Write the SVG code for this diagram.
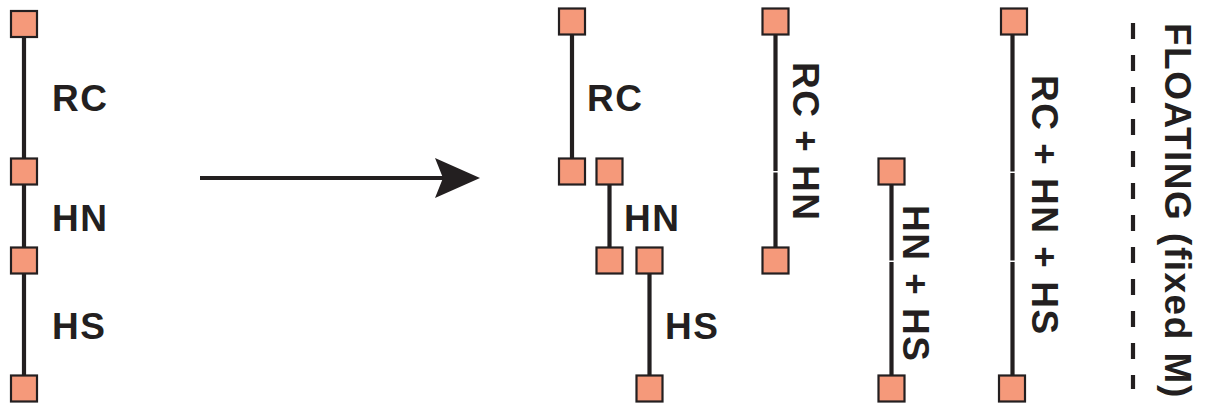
<svg xmlns="http://www.w3.org/2000/svg" width="1209" height="413" viewBox="0 0 1209 413">
<style>
.sq{fill:#F5997A;stroke:#231F20;stroke-width:2.2}
.ln{stroke:#231F20;stroke-width:4.2;fill:none}
.lb{font-family:"Liberation Sans",Arial,sans-serif;font-weight:bold;font-size:37px;fill:#231F20;letter-spacing:1.5px}
</style>
<rect width="1209" height="413" fill="#fff"/>
<g id="connectors">
<line class="ln" x1="24" y1="24" x2="24" y2="388"/>
<line class="ln" x1="572" y1="22" x2="572" y2="171"/>
<line class="ln" x1="609.5" y1="171" x2="609.5" y2="260"/>
<line class="ln" x1="649.5" y1="260" x2="649.5" y2="388"/>
<line class="ln" x1="775.5" y1="22" x2="775.5" y2="171"/>
<line class="ln" x1="775.5" y1="172.5" x2="775.5" y2="260"/>
<line class="ln" x1="891.5" y1="171" x2="891.5" y2="260.5"/>
<line class="ln" x1="891.5" y1="262" x2="891.5" y2="388"/>
<line class="ln" x1="1012.5" y1="22" x2="1012.5" y2="171.5"/>
<line class="ln" x1="1012.5" y1="173" x2="1012.5" y2="260.5"/>
<line class="ln" x1="1012.5" y1="262" x2="1012.5" y2="388"/>
<line class="ln" x1="1133" y1="23" x2="1133" y2="389" stroke-width="5.5" stroke-dasharray="16 16"/>
<line class="ln" x1="200" y1="178" x2="445" y2="178" stroke-width="5"/>
<polygon points="480,178 435,158 443,178 435,198" fill="#231F20"/>
</g>
<g id="left-rc-top"><rect class="sq" x="11" y="11" width="26" height="26"/></g>
<g id="left-rc-hn"><rect class="sq" x="11" y="158.5" width="26" height="26"/></g>
<g id="left-hn-hs"><rect class="sq" x="11" y="247.5" width="26" height="26"/></g>
<g id="left-hs-bot"><rect class="sq" x="11" y="375.5" width="26" height="26"/></g>
<g id="mid-a"><rect class="sq" x="559" y="8.5" width="26" height="26"/></g>
<g id="mid-b"><rect class="sq" x="559" y="158.5" width="26" height="26"/></g>
<g id="mid-c"><rect class="sq" x="596.5" y="158.5" width="26" height="26"/></g>
<g id="mid-d"><rect class="sq" x="596.5" y="247.5" width="26" height="26"/></g>
<g id="mid-e"><rect class="sq" x="636.5" y="247.5" width="26" height="26"/></g>
<g id="mid-f"><rect class="sq" x="636.5" y="375.5" width="26" height="26"/></g>
<g id="rchn-top"><rect class="sq" x="762.5" y="8.5" width="26" height="26"/></g>
<g id="rchn-bot"><rect class="sq" x="762.5" y="247.5" width="26" height="26"/></g>
<g id="hnhs-top"><rect class="sq" x="878.5" y="158.5" width="26" height="26"/></g>
<g id="hnhs-bot"><rect class="sq" x="878.5" y="375.5" width="26" height="26"/></g>
<g id="all-top"><rect class="sq" x="1001" y="8.5" width="26" height="26"/></g>
<g id="all-bot"><rect class="sq" x="999" y="375.5" width="26" height="26"/></g>
<g id="labels">
<text class="lb" x="52" y="111">RC</text>
<text class="lb" x="52" y="231">HN</text>
<text class="lb" x="52" y="339">HS</text>
<text class="lb" x="587" y="111">RC</text>
<text class="lb" x="624" y="231">HN</text>
<text class="lb" x="665" y="339">HS</text>
<text class="lb" transform="translate(793,62) rotate(90)">RC + HN</text>
<text class="lb" transform="translate(903,205) rotate(90)">HN + HS</text>
<text class="lb" transform="translate(1032,75) rotate(90)">RC + HN + HS</text>
<text class="lb" transform="translate(1165,23) rotate(90)">FLOATING (fixed M)</text>
</g>
</svg>
